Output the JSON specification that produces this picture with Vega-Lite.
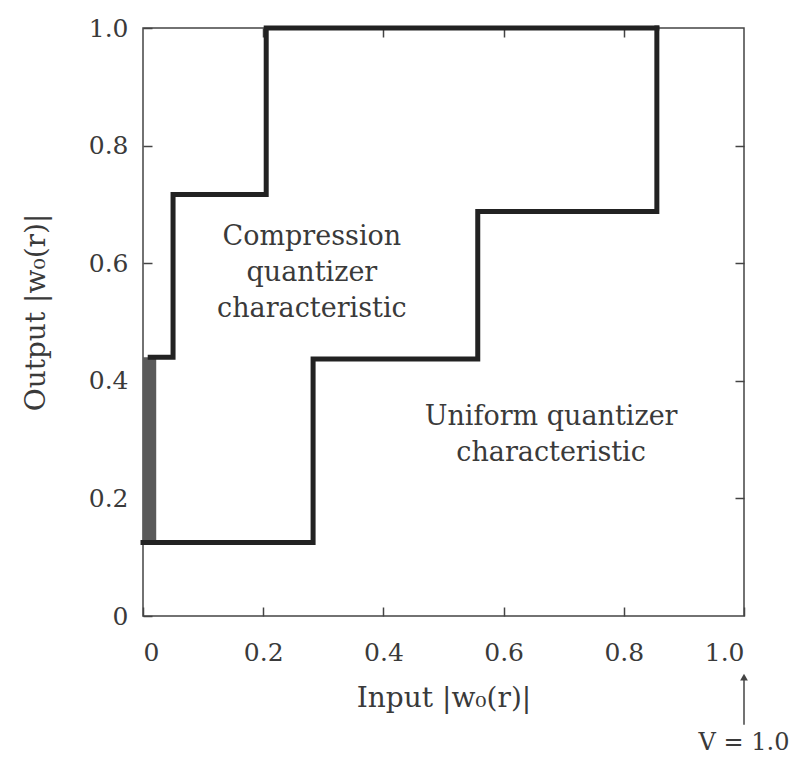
{
  "$schema": "https://vega.github.io/schema/vega-lite/v6.json",
  "width": 601,
  "height": 588,
  "autosize": {"type": "none"},
  "padding": {"left": 143, "top": 28, "right": 60, "bottom": 149},
  "background": "white",
  "config": {
    "view": {"stroke": "#444", "strokeWidth": 1.5},
    "font": "DejaVu Serif",
    "axis": {
      "labelFont": "DejaVu Serif",
      "titleFont": "DejaVu Serif",
      "labelFontSize": 25,
      "titleFontSize": 25,
      "titleFontWeight": "normal",
      "labelColor": "#3a3a3a",
      "titleColor": "#3a3a3a",
      "tickColor": "#444",
      "tickWidth": 1.5,
      "tickSize": -9,
      "domain": false,
      "grid": false
    }
  },
  "datasets": {
    "curves": [
      {"curve": "uniform", "i": 0, "x": 0.0, "y": 0.125},
      {"curve": "uniform", "i": 1, "x": 0.283, "y": 0.125},
      {"curve": "uniform", "i": 2, "x": 0.283, "y": 0.437},
      {"curve": "uniform", "i": 3, "x": 0.557, "y": 0.437},
      {"curve": "uniform", "i": 4, "x": 0.557, "y": 0.688},
      {"curve": "uniform", "i": 5, "x": 0.855, "y": 0.688},
      {"curve": "uniform", "i": 6, "x": 0.855, "y": 1.0},
      {"curve": "compression", "i": 0, "x": 0.012, "y": 0.44},
      {"curve": "compression", "i": 1, "x": 0.05, "y": 0.44},
      {"curve": "compression", "i": 2, "x": 0.05, "y": 0.717},
      {"curve": "compression", "i": 3, "x": 0.205, "y": 0.717},
      {"curve": "compression", "i": 4, "x": 0.205, "y": 1.0},
      {"curve": "compression", "i": 5, "x": 0.855, "y": 1.0}
    ],
    "band": [{"x": 0.0, "x2": 0.022, "y": 0.125, "y2": 0.44}],
    "labels": [
      {"x": 0.281, "y": 0.645, "text": ["Compression", "quantizer", "characteristic"]},
      {"x": 0.679, "y": 0.338, "text": ["Uniform quantizer", "characteristic"]}
    ],
    "vmark": [{"x": 1.0, "y": -0.104, "y2": -0.185, "label": "V = 1.0", "ly": -0.216}]
  },
  "resolve": {"axis": {"x": "independent", "y": "independent"}},
  "layer": [
    {
      "data": {"name": "band"},
      "mark": {"type": "rect", "color": "#5a5a5a"},
      "encoding": {
        "x": {"field": "x", "type": "quantitative", "scale": {"domain": [0, 1], "nice": false},
              "axis": {"orient": "top", "labels": false, "title": null, "values": [0.2, 0.4, 0.6, 0.8]}},
        "x2": {"field": "x2"},
        "y": {"field": "y", "type": "quantitative", "scale": {"domain": [0, 1], "nice": false},
              "axis": {"orient": "right", "labels": false, "title": null, "values": [0.2, 0.4, 0.6, 0.8]}},
        "y2": {"field": "y2"}
      }
    },
    {
      "data": {"name": "labels"},
      "mark": {"type": "text", "fontSize": 27, "color": "#3a3a3a", "lineHeight": 36, "align": "center", "baseline": "middle", "font": "DejaVu Serif"},
      "encoding": {
        "x": {"field": "x", "type": "quantitative", "scale": {"domain": [0, 1], "nice": false}, "axis": null},
        "y": {"field": "y", "type": "quantitative", "scale": {"domain": [0, 1], "nice": false}, "axis": null},
        "text": {"field": "text"}
      }
    },
    {
      "data": {"name": "curves"},
      "mark": {"type": "line", "strokeWidth": 5, "strokeCap": "square", "strokeJoin": "miter", "interpolate": "linear"},
      "encoding": {
        "x": {"field": "x", "type": "quantitative", "scale": {"domain": [0, 1], "nice": false},
              "axis": {"orient": "bottom", "values": [0, 0.2, 0.4, 0.6, 0.8, 1.0],
                       "labelExpr": "datum.value == 0 ? '0' : format(datum.value, '.1f')",
                       "labelPadding": 33, "title": "Input |w₀(r)|", "titleFontSize": 28, "titlePadding": 19}},
        "y": {"field": "y", "type": "quantitative", "scale": {"domain": [0, 1], "nice": false},
              "axis": {"orient": "left", "values": [0, 0.2, 0.4, 0.6, 0.8, 1.0],
                       "labelExpr": "datum.value == 0 ? '0' : format(datum.value, '.1f')",
                       "labelPadding": 24, "title": "Output |w₀(r)|", "titleFontSize": 28, "titlePadding": 38, "titleY": 284}},
        "detail": {"field": "curve"},
        "order": {"field": "i", "type": "quantitative"},
        "color": {"value": "#222"}
      }
    },
    {
      "data": {"name": "vmark"},
      "mark": {"type": "rule", "clip": false, "color": "#444", "strokeWidth": 1.5},
      "encoding": {
        "x": {"field": "x", "type": "quantitative", "scale": {"domain": [0, 1], "nice": false}, "axis": null},
        "y": {"field": "y", "type": "quantitative", "scale": {"domain": [0, 1], "nice": false}, "axis": null},
        "y2": {"field": "y2"}
      }
    },
    {
      "data": {"name": "vmark"},
      "mark": {"type": "point", "shape": "triangle-up", "filled": true, "size": 60, "color": "#444", "clip": false, "opacity": 1},
      "encoding": {
        "x": {"field": "x", "type": "quantitative", "scale": {"domain": [0, 1], "nice": false}, "axis": null},
        "y": {"field": "y", "type": "quantitative", "scale": {"domain": [0, 1], "nice": false}, "axis": null}
      }
    },
    {
      "data": {"name": "vmark"},
      "mark": {"type": "text", "fontSize": 24, "color": "#3a3a3a", "clip": false, "align": "center", "baseline": "middle", "font": "DejaVu Serif"},
      "encoding": {
        "x": {"field": "x", "type": "quantitative", "scale": {"domain": [0, 1], "nice": false}, "axis": null},
        "y": {"field": "ly", "type": "quantitative", "scale": {"domain": [0, 1], "nice": false}, "axis": null},
        "text": {"field": "label"}
      }
    }
  ]
}
